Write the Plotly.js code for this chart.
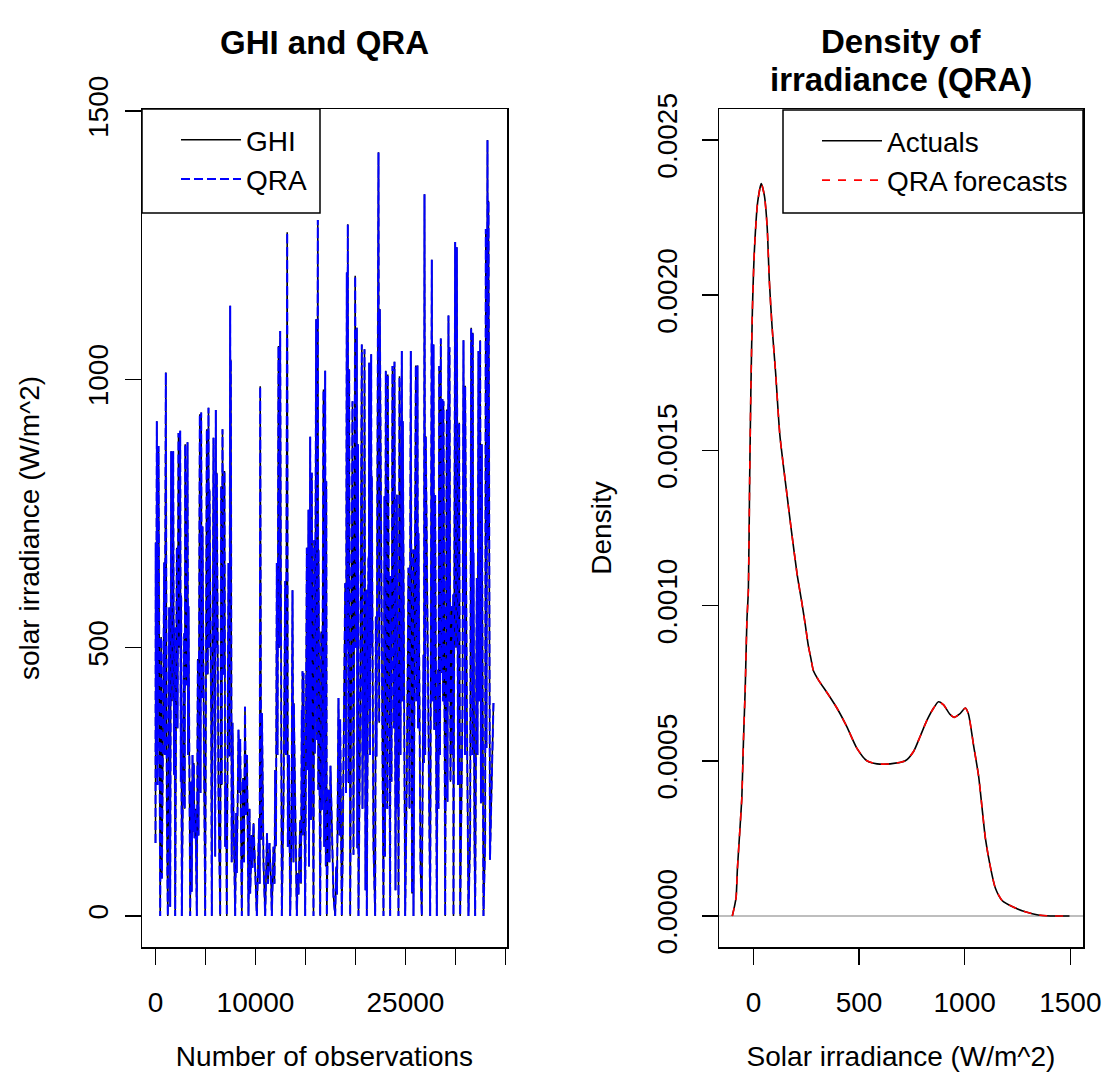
<!DOCTYPE html>
<html><head><meta charset="utf-8">
<script src="https://cdn.plot.ly/plotly-3.0.1.min.js"></script>
<style>html,body{margin:0;padding:0;background:#fff}#chart{width:1109px;height:1088px}</style>
</head><body><div id="chart"></div>
<script>
const obsIndex = [
0,20,60,130,200,300,400,470,
560,640,870,920,1030,1130,1230,
1370,1470,1570,1650,1770,1850,1900,1970,
2130,2200,2300,2380,2470,2530,2570,2630,
2870,2920,2970,3100,3200,3260,3300,3470,
3550,3620,3700,3770,3830,3900,4000,4130,
4230,4300,4430,4500,4570,4630,4700,4850,4970,
5130,5220,5300,5350,5400,5570,5630,
5800,5970,6030,6080,6130,6300,6470,
6570,6620,6700,6800,6900,6970,7050,7130,
7300,7400,7470,7500,7530,7620,7700,7800,7970,
8070,8130,8300,8400,8470,8550,8630,
8750,8850,8950,9050,9150,9300,
9400,9470,9630,9700,9800,9970,10130,
10370,10420,10470,10570,10650,10800,10970,
11030,11150,11250,11400,11570,11630,
11800,11900,11970,12050,12130,12200,12300,12380,12470,12630,
12800,12970,13050,13170,13230,13350,13470,
13600,13700,13800,13830,13970,14130,
14230,14300,14470,14550,14630,14670,14700,14750,14800,14970,
15130,15200,15300,15350,15470,15550,15630,15800,
15870,15930,16070,16150,16230,16280,16300,16470,
16570,16650,16800,16870,16970,17030,17080,17130,
17300,17400,17500,17800,17970,
18070,18150,18300,18400,18470,18630,
18700,18970,19050,19130,19180,19230,19300,19370,19470,
19700,19800,19970,20050,20130,20180,20250,20300,
20470,20630,20700,20800,20850,20900,21000,21100,21130,
21300,21330,21370,21450,21570,21600,21630,21800,21970,
22030,22100,22300,22370,22430,22700,22800,
22900,22950,23030,23100,23130,23180,23230,23370,23470,
23500,23600,23700,23770,23800,23850,23900,24000,24130,24200,24270,24300,
24400,24500,24630,24700,24730,24970,
25130,25300,25400,25530,25650,25780,25800,
26030,26100,26200,26250,26300,26500,26630,
26800,26850,26900,26970,27030,27300,27470,
27630,27700,27800,27880,27970,28130,
28230,28300,28370,28450,28530,28600,28700,28750,28800,28970,
29130,29200,29300,29350,29400,29500,29630,29700,29780,29800,
29970,30050,30130,30250,30370,30470,
30700,30800,30850,30900,30950,30970,31130,31300,
31470,31570,31620,31650,31700,31730,31780,31800,31900,31970,
32130,32200,32300,32380,32470,32550,32630,32800,
32970,33030,33100,33200,33250,33300,33450,33800
];
const ghiValues = [
136,696,300,922,244,876,173,0,
520,70,659,300,1013,198,0,
575,17,866,400,866,263,537,0,
686,350,900,500,904,250,597,0,
527,200,879,430,883,300,577,0,
250,45,300,157,285,145,200,0,
479,150,935,229,938,406,726,300,0,
907,450,947,500,795,372,0,
891,111,943,500,826,226,0,
801,244,907,450,829,129,248,0,
658,297,1137,600,1037,100,360,192,0,
192,80,347,229,330,83,0,
257,100,390,188,300,0,
200,42,151,90,173,70,0,
182,60,987,142,378,98,0,
42,154,60,136,55,0,
129,60,272,130,658,300,1062,500,1090,0,
204,624,300,1274,129,300,0,
150,607,100,397,167,0,
80,40,179,60,384,200,456,150,453,0,
686,272,757,92,893,179,826,0,
700,303,1112,328,1297,235,683,0,
530,198,981,129,1016,92,810,0,
235,100,280,36,0,
92,40,406,150,366,0,
86,620,229,1199,500,1289,248,1019,0,
959,114,1193,500,1096,126,879,0,
378,1065,200,493,300,1056,48,608,0,
670,400,1031,300,1047,500,820,126,0,
558,297,1423,360,1131,272,0,
782,111,1016,300,624,200,1009,390,0,
633,250,1025,400,785,350,1033,48,785,200,471,0,
1006,300,1053,400,922,0,
254,649,200,1053,42,683,0,
1026,400,1026,350,713,92,0,
487,285,1345,300,894,266,0,
1223,400,1065,347,784,0,
459,200,1025,300,1076,453,963,400,959,0,
944,213,1119,400,1060,250,577,300,599,0,
1256,500,1246,244,919,0,
384,1073,600,969,300,988,409,0,
154,1096,500,869,300,1087,400,677,138,0,
630,300,1053,400,1073,210,879,0,
142,1280,313,1446,700,1333,105,397
];
// QRA forecasts coincide with GHI at the picture's resolution
const qraValues = ghiValues.slice();

// ---- Right panel: density of irradiance ----
const densityX = [-100,-90,-82,-76,-63,-55,-47,-39,-31,-24,-18,-12,-5,5,20,37,52,65,75,88,
105,125,160,180,207,229,245,260,272,284,308,348,395,442,490,537,585,648,719,758,
790,821,853,876,900,930,950,975,1003,1018,1042,1066,1082,1098,1121,1145,1177,1232,1295,1342,1405,1496];
const densityActuals = [0,0.00003,0.00006,0.00015,0.00029,0.00038,0.00057,0.00073,0.00095,0.00105,
0.00140,0.00170,0.00195,0.00215,0.00230,0.00236,0.00232,0.00222,0.00205,0.00190,
0.00175,0.00155,0.00135,0.00124,0.00110,0.00101,0.00094,0.00087,0.00083,0.00079,
0.00076,0.00072,0.00067,0.00061,0.00054,0.00050,0.00049,0.00049,0.00050,0.00053,
0.00058,0.00063,0.00067,0.00069,0.00068,0.00065,0.00064,0.00065,0.00067,0.00065,
0.00055,0.00045,0.00035,0.00025,0.00016,0.00009,0.00005,0.000028,0.000012,0.000004,0,0];
const densityQRA = densityActuals.slice();

// ---- Tick labels ----
const leftXTickVals = [0,5000,10000,15000,20000,25000,30000,35000];
const leftXTickText = ['0','','10000','','','25000','',''];
const leftYTickVals = [0,500,1000,1500];
const rightXTickVals = [0,500,1000,1500];
const rightYTickVals = [0,0.0005,0.001,0.0015,0.002,0.0025];

const W = 1109, H = 1088;
const px = v => v / W, py = v => 1 - v / H;
const FONT = 'Liberation Sans, Arial, Helvetica, sans-serif';

const axisBase = {
  ticks: 'outside', ticklen: 16, tickwidth: 1.5, tickcolor: '#000',
  showline: true, mirror: true, linecolor: '#000', linewidth: 1.5,
  showgrid: false, zeroline: false, fixedrange: true,
  tickfont: {family: FONT, size: 28, color: '#000'}
};

const traces = [
  {x: obsIndex, y: ghiValues, xaxis: 'x', yaxis: 'y', type: 'scatter', mode: 'lines',
   name: 'GHI', legend: 'legend', line: {color: '#000000', width: 1.5}},
  {x: obsIndex, y: qraValues, xaxis: 'x', yaxis: 'y', type: 'scatter', mode: 'lines',
   name: 'QRA', legend: 'legend', line: {color: '#0000ff', width: 2, dash: '9px,4px'}},
  {x: densityX, y: densityActuals, xaxis: 'x2', yaxis: 'y2', type: 'scatter', mode: 'lines',
   name: 'Actuals', legend: 'legend2', line: {color: '#000000', width: 1.6, shape: 'spline', smoothing: 0.6}},
  {x: densityX, y: densityQRA, xaxis: 'x2', yaxis: 'y2', type: 'scatter', mode: 'lines',
   name: 'QRA forecasts', legend: 'legend2', line: {color: '#ff0000', width: 1.6, dash: '8px,8px', shape: 'spline', smoothing: 0.6}}
];

const layout = {
  width: W, height: H, margin: {l: 0, r: 0, t: 0, b: 0},
  paper_bgcolor: '#ffffff', plot_bgcolor: '#ffffff',
  font: {family: FONT, size: 28, color: '#000'},
  hovermode: false, showlegend: true,
  title: {text: 'GHI and QRA', font: {family: FONT, size: 33, weight: 'bold', color: '#000'},
          x: px(324.5), xref: 'paper', xanchor: 'center', y: py(42), yref: 'paper', yanchor: 'middle'},
  xaxis: Object.assign({}, axisBase, {
    domain: [px(142), px(507)], anchor: 'y', range: [-1351, 35152],
    tickmode: 'array', tickvals: leftXTickVals, ticktext: leftXTickText, ticklabelstandoff: 14,
    title: {text: 'Number of observations', standoff: 29, font: {family: FONT, size: 28, color: '#000'}}
  }),
  yaxis: Object.assign({}, axisBase, {
    domain: [1 - 947 / H, 1 - 109 / H], anchor: 'x', range: [-57.8, 1503.8],
    tickmode: 'array', tickvals: leftYTickVals, tickangle: -90, ticklabelstandoff: 5,
    title: {text: 'solar irradiance (W/m^2)', standoff: 35, font: {family: FONT, size: 28, color: '#000'}}
  }),
  xaxis2: Object.assign({}, axisBase, {
    domain: [px(719), px(1083)], anchor: 'y2', range: [-163, 1560],
    tickmode: 'array', tickvals: rightXTickVals, ticklabelstandoff: 14,
    title: {text: 'Solar irradiance (W/m^2)', standoff: 29, font: {family: FONT, size: 28, color: '#000'}}
  }),
  yaxis2: Object.assign({}, axisBase, {
    domain: [1 - 947 / H, 1 - 109 / H], anchor: 'x2', range: [-0.0001, 0.0026],
    tickmode: 'array', tickvals: rightYTickVals, tickformat: '.4f', tickangle: -90, ticklabelstandoff: 13,
    zeroline: true, zerolinecolor: '#bebebe', zerolinewidth: 1.5,
    title: {text: 'Density', standoff: 32, font: {family: FONT, size: 28, color: '#000'}}
  }),
  legend: {x: px(176), y: py(115), xanchor: 'left', yanchor: 'top', bgcolor: 'rgba(0,0,0,0)',
           borderwidth: 0, font: {family: FONT, size: 28, color: '#000'}, itemwidth: 60, tracegroupgap: 0},
  legend2: {x: px(817), y: py(116), xanchor: 'left', yanchor: 'top', bgcolor: 'rgba(0,0,0,0)',
            borderwidth: 0, font: {family: FONT, size: 28, color: '#000'}, itemwidth: 60, tracegroupgap: 0},
  annotations: [
    {text: 'Density of', xref: 'paper', yref: 'paper', x: px(901), y: py(42),
     xanchor: 'center', yanchor: 'middle', showarrow: false,
     font: {family: FONT, size: 33, weight: 'bold', color: '#000'}},
    {text: 'irradiance (QRA)', xref: 'paper', yref: 'paper', x: px(901), y: py(80),
     xanchor: 'center', yanchor: 'middle', showarrow: false,
     font: {family: FONT, size: 33, weight: 'bold', color: '#000'}}
  ],
  shapes: [
    {type: 'rect', xref: 'paper', yref: 'paper', x0: px(142), x1: px(320), y0: py(213), y1: py(109),
     line: {color: '#000', width: 1.5}, fillcolor: 'rgba(0,0,0,0)'},
    {type: 'rect', xref: 'paper', yref: 'paper', x0: px(783), x1: px(1083), y0: py(213), y1: py(110),
     line: {color: '#000', width: 1.5}, fillcolor: 'rgba(0,0,0,0)'}
  ]
};

Plotly.newPlot('chart', traces, layout, {displayModeBar: false, staticPlot: true});
</script>
</body></html>
